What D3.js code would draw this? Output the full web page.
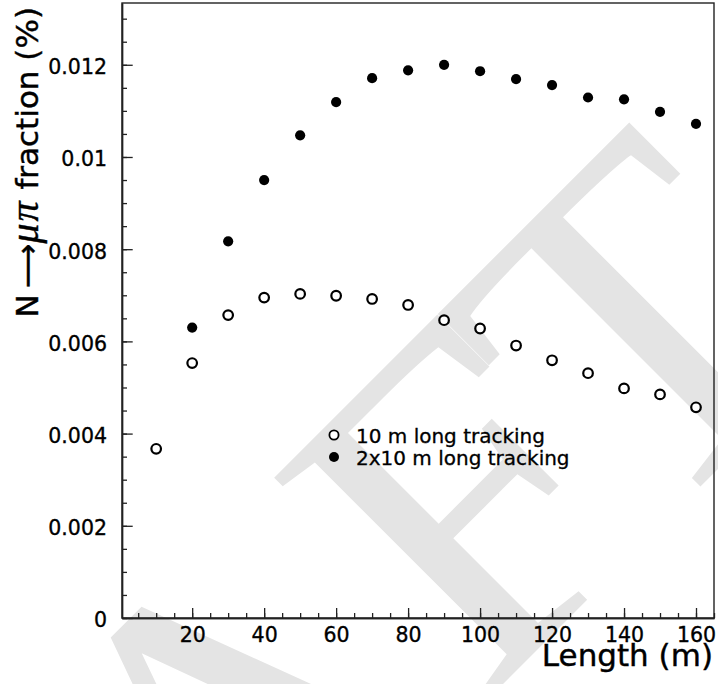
<!DOCTYPE html>
<html>
<head>
<meta charset="utf-8">
<script src="https://cdn.jsdelivr.net/npm/d3@7/dist/d3.min.js"></script>
<style>
  html, body { margin: 0; padding: 0; background: #fff; }
  svg { display: block; }
  text { font-family: "DejaVu Sans", sans-serif; fill: #000; }
</style>
</head>
<body>
<svg id="chart" width="718" height="684"></svg>
<script>
// ---- data ----
const lengths10 = [10, 20, 30, 40, 50, 60, 70, 80, 90, 100, 110, 120, 130, 140, 150, 160];
const fraction10 = [0.00367, 0.00553, 0.00657, 0.00695, 0.00703, 0.00699, 0.00692, 0.00679,
                    0.00646, 0.00628, 0.00591, 0.00559, 0.00531, 0.00498, 0.00485, 0.00457];
const lengths20 = [20, 30, 40, 50, 60, 70, 80, 90, 100, 110, 120, 130, 140, 150, 160];
const fraction20 = [0.00630, 0.00817, 0.00950, 0.01047, 0.01119, 0.01171, 0.01188, 0.01200,
                    0.01186, 0.01169, 0.01156, 0.01129, 0.01125, 0.01098, 0.01072];
const xMajorTicks = [20, 40, 60, 80, 100, 120, 140, 160];
const yMajorTicks = [0, 0.002, 0.004, 0.006, 0.008, 0.01, 0.012];
const legendLabels = ["10 m long tracking", "2x10 m long tracking"];
const xTitle = "Length (m)";
const watermark = ["DRA", "F", "T"];

// ---- layout ----
const L = 122, R = 714, T = 3, B = 618;
const svg = d3.select("#chart");
svg.append("rect").attr("width", 718).attr("height", 684).attr("fill", "#fff");

const x = d3.scaleLinear().domain([0.5, 165]).range([L, R]);
const y = d3.scaleLinear().domain([0, 0.01334]).range([B, T]);

// ---- watermark ----
const wm = svg.append("text")
  .attr("transform", "translate(-219.5,1406.5) rotate(-45)")
  .style("font-family", "'Liberation Serif', serif")
  .style("font-size", "470px")
  .style("fill", "#e4e4e4");
wm.append("tspan").attr("dx", -20).text(watermark[0]);
wm.append("tspan").attr("dx", 20).text(watermark[1]);
wm.append("tspan").attr("dx", -25).text(watermark[2]);

// ---- frame ----
svg.append("rect")
  .attr("x", L).attr("y", T).attr("width", R - L).attr("height", B - T)
  .attr("fill", "none").attr("stroke", "#222").attr("stroke-width", 1.4);

// ---- axes ----
const yMinor = d3.range(0, 0.01334, 0.0005);
const xMinor = d3.range(5, 166, 5);

const gyMinor = svg.append("g").attr("transform", `translate(${L},0)`)
  .call(d3.axisLeft(y).tickValues(yMinor).tickSizeInner(-5).tickSizeOuter(0).tickFormat(""));
const gy = svg.append("g").attr("transform", `translate(${L},0)`)
  .call(d3.axisLeft(y).tickValues(yMajorTicks).tickSizeInner(-10.7).tickSizeOuter(0).tickPadding(15)
    .tickFormat(d => d === 0 ? "0" : String(+d.toFixed(4))));
const gxMinor = svg.append("g").attr("transform", `translate(0,${B})`)
  .call(d3.axisBottom(x).tickValues(xMinor).tickSizeInner(-5).tickSizeOuter(0).tickFormat(""));
const gx = svg.append("g").attr("transform", `translate(0,${B})`)
  .call(d3.axisBottom(x).tickValues(xMajorTicks).tickSizeInner(-10).tickSizeOuter(0).tickPadding(9));

[gyMinor, gy, gxMinor, gx].forEach(g => {
  g.select(".domain").attr("stroke", "#222").attr("stroke-width", 1.4);
  g.selectAll(".tick line").attr("stroke", "#222").attr("stroke-width", 1.3);
  g.selectAll(".tick text")
    .style("font-family", "'DejaVu Sans', sans-serif")
    .style("font-size", "20.5px")
    .style("stroke", "#000").style("stroke-width", "0.35px");
});
gy.selectAll(".tick text").attr("dy", "0.43em");

// ---- titles ----
svg.append("text")
  .attr("x", 713).attr("y", 666).attr("text-anchor", "end")
  .style("font-size", "31px").style("stroke", "#000").style("stroke-width", "0.4px")
  .text(xTitle);

const yt = svg.append("text")
  .attr("transform", "translate(38,7) rotate(-90)")
  .attr("text-anchor", "end")
  .style("font-size", "31px").style("stroke", "#000").style("stroke-width", "0.4px");
yt.append("tspan").text("N\u2009");
yt.append("tspan").text("\u27F6");
yt.append("tspan").style("font-family", "'Liberation Serif', serif").style("font-style", "italic")
  .style("font-size", "40px").style("letter-spacing", "2px").text("\u03BC\u03C0");
yt.append("tspan").text(" fraction (%)");

// ---- markers ----
const pts10 = lengths10.map((l, i) => ({ l, v: fraction10[i] }));
const pts20 = lengths20.map((l, i) => ({ l, v: fraction20[i] }));

svg.append("g").selectAll("circle").data(pts10).join("circle")
  .attr("cx", d => x(d.l)).attr("cy", d => y(d.v)).attr("r", 4.8)
  .attr("fill", "#fff").attr("stroke", "#000").attr("stroke-width", 2.2);
svg.append("g").selectAll("circle").data(pts20).join("circle")
  .attr("cx", d => x(d.l)).attr("cy", d => y(d.v)).attr("r", 5.1)
  .attr("fill", "#000");

// ---- legend ----
const leg = svg.append("g");
const legY = [435, 457];
leg.append("circle").attr("cx", 334).attr("cy", legY[0]).attr("r", 4.6)
  .attr("fill", "#fff").attr("stroke", "#000").attr("stroke-width", 1.8);
leg.append("circle").attr("cx", 334).attr("cy", legY[1]).attr("r", 5).attr("fill", "#000");
leg.selectAll("text").data(legendLabels).join("text")
  .attr("x", 356).attr("y", (d, i) => legY[i] + 8.3)
  .style("font-size", "20px").style("stroke", "#000").style("stroke-width", "0.3px")
  .text(d => d);
</script>
</body>
</html>
